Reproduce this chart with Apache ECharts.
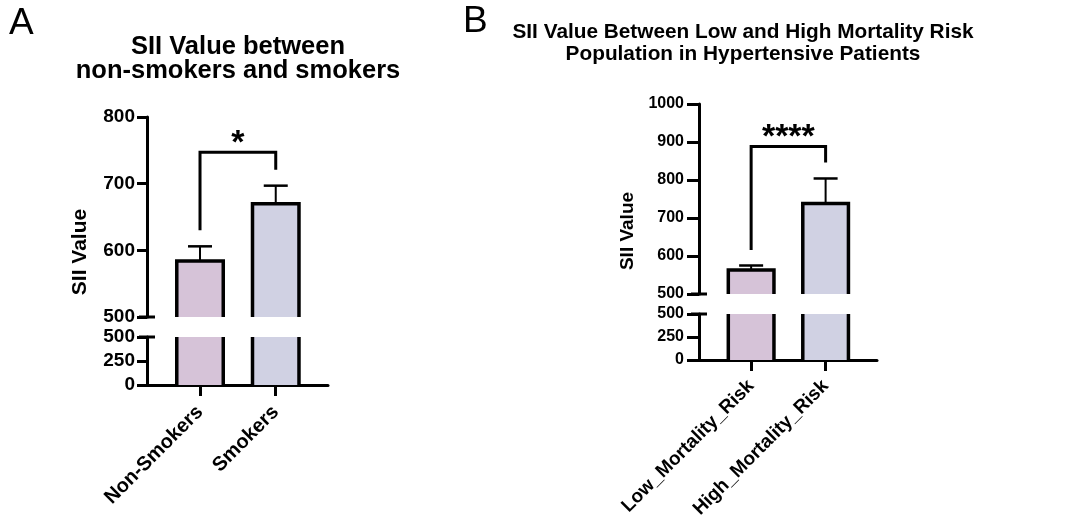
<!DOCTYPE html>
<html><head><meta charset="utf-8">
<script src="https://cdn.jsdelivr.net/npm/echarts@6/dist/echarts.min.js"></script>
<style>html,body{margin:0;padding:0;background:#fff}#c{width:1070px;height:521px}</style>
</head><body><div id="c"></div>
<script>
// ---------- data ----------
const catsA = ['Non-Smokers', 'Smokers'];
const meanA = [584, 670];
const semA = [22, 27];
const bracketA = [630, 747, 721];   // left end, top, right end (SII units)
const sigA = '*';
const upperTicksA = [500, 800, 100]; // min, max, interval
const lowerTicksA = [0, 500, 250];

const catsB = ['Low_Mortality_Risk', 'High_Mortality_Risk'];
const meanB = [563, 738];
const semB = [12, 66];
const bracketB = [616, 888, 846];
const sigB = '****';
const upperTicksB = [500, 1000, 100];
const lowerTicksB = [0, 500, 250];

const titleA = 'SII Value between\nnon-smokers and smokers';
const titleB = 'SII Value Between Low and High Mortality Risk\nPopulation in Hypertensive Patients';
const yName = 'SII Value';

// ---------- styles ----------
const FONT = '"Liberation Sans", Arial, sans-serif';
const fills = ['#d6c3d8', '#d0d1e3'];
const BORDER = 3.5;
const BAR_W = 0.66;
const X_MIN = -0.7, X_MAX = 1.69;

function upperBar(breakVal) {
  return function (params, api) {
    const i = api.value(0), v = api.value(1), e = api.value(2);
    const top = api.coord([i, v]);
    const base = api.coord([i, breakVal]);
    const err = api.coord([i, v + e]);
    const bw = api.size([BAR_W, 0])[0];
    const x0 = top[0] - bw / 2 + BORDER / 2, x1 = top[0] + bw / 2 - BORDER / 2;
    const cap = 12;
    return {
      type: 'group',
      children: [
        {type: 'rect', shape: {x: x0, y: top[1], width: x1 - x0, height: base[1] - top[1]},
         style: {fill: fills[params.dataIndex]}},
        {type: 'line', shape: {x1: top[0], y1: top[1], x2: err[0], y2: err[1]},
         style: {stroke: '#000', lineWidth: 2}},
        {type: 'line', shape: {x1: top[0] - cap, y1: err[1], x2: top[0] + cap, y2: err[1]},
         style: {stroke: '#000', lineWidth: 2.5}},
        {type: 'polyline', shape: {points: [[x0, base[1]], [x0, top[1]], [x1, top[1]], [x1, base[1]]]},
         style: {stroke: '#000', lineWidth: BORDER, fill: null, lineJoin: 'miter'}}
      ]
    };
  };
}
function lowerBar(params, api) {
  const i = api.value(0), v = api.value(1);
  const top = api.coord([i, v]);
  const base = api.coord([i, 0]);
  const bw = api.size([BAR_W, 0])[0];
  const x0 = top[0] - bw / 2 + BORDER / 2, x1 = top[0] + bw / 2 - BORDER / 2;
  return {
    type: 'group',
    children: [
      {type: 'rect', shape: {x: x0, y: top[1], width: x1 - x0, height: base[1] - top[1]},
       style: {fill: fills[params.dataIndex]}},
      {type: 'line', shape: {x1: x0, y1: top[1], x2: x0, y2: base[1]}, style: {stroke: '#000', lineWidth: BORDER}},
      {type: 'line', shape: {x1: x1, y1: top[1], x2: x1, y2: base[1]}, style: {stroke: '#000', lineWidth: BORDER}}
    ]
  };
}
function bracket(sig) {
  return function (params, api) {
    const a = api.value(0), b = api.value(1);
    const p0 = api.coord([a, api.value(2)]);
    const p1 = api.coord([a, api.value(3)]);
    const p2 = api.coord([b, api.value(3)]);
    const p3 = api.coord([b, api.value(4)]);
    return {
      type: 'group',
      children: [
        {type: 'polyline', shape: {points: [p0, p1, p2, p3]},
         style: {stroke: '#000', lineWidth: 3, fill: null}},
        {type: 'text', x: (p1[0] + p2[0]) / 2, y: p1[1] - 8.5,
         style: {text: sig, font: 'bold 34px ' + FONT, fill: '#000',
                 align: 'center', verticalAlign: 'middle', textAlign: 'center', textVerticalAlign: 'middle'}}
      ]
    };
  };
}
function breakMark(val) {
  return function (params, api) {
    const p = api.coord([X_MIN, val]);
    return {type: 'line', shape: {x1: p[0] - 8, y1: p[1], x2: p[0] + 8, y2: p[1]},
            style: {stroke: '#000', lineWidth: 3}};
  };
}

function xAxisHidden(g) {
  return {type: 'value', gridIndex: g, min: X_MIN, max: X_MAX, show: false};
}
function xAxisShown(g, cats, fs, margin) {
  return {
    type: 'value', gridIndex: g, min: X_MIN, max: X_MAX,
    axisLine: {show: true, onZero: false, lineStyle: {color: '#000', width: 3}},
    axisTick: {show: true, customValues: [0, 1], length: 11, lineStyle: {color: '#000', width: 3}},
    axisLabel: {show: true, customValues: [0, 1], rotate: 45, margin: margin,
      formatter: v => cats[Math.round(v)], color: '#000', fontWeight: 'bold', fontSize: fs, fontFamily: FONT},
    splitLine: {show: false}
  };
}
function yAxis(g, t, fs, tickLen, margin) {
  return {
    type: 'value', gridIndex: g, min: t[0], max: t[1], interval: t[2],
    axisLine: {show: true, onZero: false, lineStyle: {color: '#000', width: 3}},
    axisTick: {show: true, length: tickLen, lineStyle: {color: '#000', width: 3}},
    axisLabel: {show: true, margin: margin, color: '#000', fontWeight: 'bold', fontSize: fs, fontFamily: FONT,
      formatter: v => String(v)},
    splitLine: {show: false}
  };
}

const upperA = meanA.map((v, i) => [i, v, semA[i]]);
const lowerA = meanA.map((v, i) => [i, Math.min(v, lowerTicksA[1])]);
const upperB = meanB.map((v, i) => [i, v, semB[i]]);
const lowerB = meanB.map((v, i) => [i, Math.min(v, lowerTicksB[1])]);

const chart = echarts.init(document.getElementById('c'), null, {renderer: 'canvas'});
chart.setOption({
  animation: false,
  backgroundColor: '#fff',
  title: [
    {text: 'A', left: 9, top: 5, textStyle: {fontFamily: FONT, fontWeight: 'normal', fontSize: 37, color: '#000'}, padding: 0},
    {text: 'B', left: 463, top: 3, textStyle: {fontFamily: FONT, fontWeight: 'normal', fontSize: 37, color: '#000'}, padding: 0},
    {text: titleA, left: 238, top: 35, textAlign: 'center', padding: 0,
     textStyle: {fontFamily: FONT, fontWeight: 'bold', fontSize: 25.5, lineHeight: 24, color: '#000'}},
    {text: titleB, left: 743, top: 21, textAlign: 'center', padding: 0,
     textStyle: {fontFamily: FONT, fontWeight: 'bold', fontSize: 20.8, lineHeight: 22, color: '#000'}}
  ],
  graphic: [
    {type: 'text', x: 80, y: 252, rotation: Math.PI / 2,
     style: {text: yName, font: 'bold 21px ' + FONT, fill: '#000', align: 'center', verticalAlign: 'middle', textAlign: 'center', textVerticalAlign: 'middle'}},
    {type: 'text', x: 628, y: 231, rotation: Math.PI / 2,
     style: {text: yName, font: 'bold 19px ' + FONT, fill: '#000', align: 'center', verticalAlign: 'middle', textAlign: 'center', textVerticalAlign: 'middle'}}
  ],
  grid: [
    {left: 147, top: 117, width: 181, height: 200},
    {left: 147, top: 337, width: 181, height: 48},
    {left: 699, top: 104, width: 178, height: 190},
    {left: 699, top: 314, width: 178, height: 48}
  ],
  xAxis: [xAxisHidden(0), xAxisShown(1, catsA, 20, 24), xAxisHidden(2), xAxisShown(3, catsB, 19, 23)],
  yAxis: [yAxis(0, upperTicksA, 19, 10, 12), yAxis(1, lowerTicksA, 19, 10, 12),
          yAxis(2, upperTicksB, 16, 12, 15), yAxis(3, lowerTicksB, 16, 12, 15)],
  series: [
    {type: 'custom', xAxisIndex: 0, yAxisIndex: 0, renderItem: upperBar(upperTicksA[0]), data: upperA, clip: false},
    {type: 'custom', xAxisIndex: 1, yAxisIndex: 1, renderItem: lowerBar, data: lowerA, clip: false},
    {type: 'custom', xAxisIndex: 0, yAxisIndex: 0, renderItem: bracket(sigA), data: [[0, 1].concat(bracketA)], clip: false},
    {type: 'custom', xAxisIndex: 0, yAxisIndex: 0, renderItem: breakMark(upperTicksA[0]), data: [[0]], clip: false},
    {type: 'custom', xAxisIndex: 1, yAxisIndex: 1, renderItem: breakMark(lowerTicksA[1]), data: [[0]], clip: false},
    {type: 'custom', xAxisIndex: 2, yAxisIndex: 2, renderItem: upperBar(upperTicksB[0]), data: upperB, clip: false},
    {type: 'custom', xAxisIndex: 3, yAxisIndex: 3, renderItem: lowerBar, data: lowerB, clip: false},
    {type: 'custom', xAxisIndex: 2, yAxisIndex: 2, renderItem: bracket(sigB), data: [[0, 1].concat(bracketB)], clip: false},
    {type: 'custom', xAxisIndex: 2, yAxisIndex: 2, renderItem: breakMark(upperTicksB[0]), data: [[0]], clip: false},
    {type: 'custom', xAxisIndex: 3, yAxisIndex: 3, renderItem: breakMark(lowerTicksB[1]), data: [[0]], clip: false}
  ]
});
</script>
</body></html>
